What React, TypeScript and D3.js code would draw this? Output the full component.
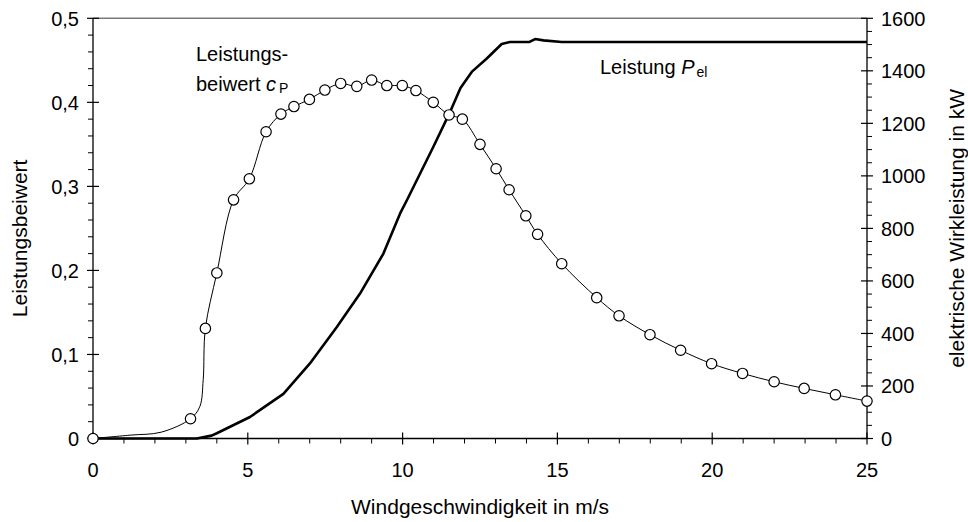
import React from "react";
import * as d3 from "d3";

// Leistungsbeiwert cP (markers)
const cpX = [0, 3.15, 3.63, 4.0, 4.54, 5.05, 5.59, 6.07, 6.49, 6.99, 7.49, 8.0, 8.52, 9.0, 9.49, 9.99, 10.43, 10.99, 11.5, 11.93, 12.5, 13.02, 13.44, 13.98, 14.36, 15.14, 16.27, 16.99, 17.99, 18.98, 19.98, 20.98, 22.0, 22.97, 23.98, 25];
const cpY = [0, 0.0235, 0.131, 0.197, 0.284, 0.309, 0.365, 0.386, 0.395, 0.4035, 0.4146, 0.4225, 0.419, 0.4265, 0.42, 0.42, 0.414, 0.4, 0.385, 0.38, 0.35, 0.321, 0.296, 0.265, 0.243, 0.208, 0.1676, 0.146, 0.1235, 0.105, 0.089, 0.0774, 0.0675, 0.0596, 0.052, 0.0445];
// additional unmarked points of the cP curve
const cpExtraX = [1.2, 2.2, 3.45, 3.56];
const cpExtraY = [0.004, 0.0075, 0.038, 0.07];

// elektrische Leistung Pel (kW)
const pX = [0, 3.35, 3.83, 4.0, 5.07, 6.15, 7.0, 7.87, 8.62, 9.38, 9.92, 10.15, 10.99, 11.5, 11.87, 12.25, 12.72, 13.2, 13.47, 14.1, 14.28, 14.55, 15.14, 25];
const pY = [0, 0, 11, 20, 82, 170, 285, 424, 551, 704, 857, 910, 1110, 1235, 1335, 1398, 1447, 1502, 1510, 1510, 1521, 1516, 1510, 1510];

const xTicks = [0, 5, 10, 15, 20, 25];
const cpTicks = [0, 0.1, 0.2, 0.3, 0.4, 0.5];
const cpTickLabels = ["0", "0,1", "0,2", "0,3", "0,4", "0,5"];
const pTicks = [0, 200, 400, 600, 800, 1000, 1200, 1400, 1600];

const FONT = "'Liberation Sans', Arial, Helvetica, sans-serif";

export default function App() {
  const W = 968, H = 522;
  const left = 93, right = 867, top = 18.3, bottom = 438.5;
  const x = d3.scaleLinear().domain([0, 25]).range([left, right]);
  const yL = d3.scaleLinear().domain([0, 0.5]).range([bottom, top]);
  const yR = d3.scaleLinear().domain([0, 1600]).range([bottom, top]);

  const cpPts = cpX.map((v, i) => ({ x: v, y: cpY[i] }));
  const cpLinePts = cpPts
    .concat(cpExtraX.map((v, i) => ({ x: v, y: cpExtraY[i] })))
    .sort((a, b) => a.x - b.x);
  const cpLine = d3
    .line<{ x: number; y: number }>()
    .x((d) => x(d.x))
    .y((d) => yL(d.y))
    .curve(d3.curveCatmullRom.alpha(0.5));
  const pLine = d3
    .line<number>()
    .x((d) => x(d))
    .y((d, i) => yR(pY[i]))
    .curve(d3.curveLinear);

  const xMinor = d3.range(0, 26, 1).filter((v) => v % 5 !== 0);
  const lMinor = d3.range(0, 0.5001, 0.02).filter((v) => Math.abs(v * 10 - Math.round(v * 10)) > 1e-6);
  const rMinor = d3.range(0, 1601, 50).filter((v) => v % 200 !== 0);

  return (
    <svg width={W} height={H} style={{ position: "absolute", left: 0, top: 0, background: "#fff" }} fontFamily={FONT}>
      {/* top border */}
      <line x1={left} x2={right} y1={top} y2={top} stroke="#7a7a7a" strokeWidth={1.5} />
      {/* axes */}
      <line x1={left} x2={right} y1={bottom} y2={bottom} stroke="#000" strokeWidth={1.3} />
      <line x1={left} x2={left} y1={bottom} y2={top} stroke="#000" strokeWidth={1.3} />
      <line x1={right} x2={right} y1={bottom} y2={top} stroke="#000" strokeWidth={1.3} />

      {/* x ticks */}
      {xTicks.map((t) => (
        <g key={"xt" + t}>
          <line x1={x(t)} x2={x(t)} y1={bottom - 6} y2={bottom + 6} stroke="#000" strokeWidth={1.2} />
          <text x={x(t)} y={477} fontSize={20} textAnchor="middle">{t}</text>
        </g>
      ))}
      {xMinor.map((t) => (
        <line key={"xm" + t} x1={x(t)} x2={x(t)} y1={bottom} y2={bottom + 5} stroke="#000" strokeWidth={1} />
      ))}

      {/* left ticks */}
      {cpTicks.map((t, i) => (
        <g key={"lt" + t}>
          <line x1={left - 6} x2={left + 6} y1={yL(t)} y2={yL(t)} stroke="#000" strokeWidth={1.2} />
          <text x={79} y={yL(t) + 7.5} fontSize={20} textAnchor="end">{cpTickLabels[i]}</text>
        </g>
      ))}
      {lMinor.map((t) => (
        <line key={"lm" + t} x1={left - 5} x2={left} y1={yL(t)} y2={yL(t)} stroke="#000" strokeWidth={1} />
      ))}

      {/* right ticks */}
      {pTicks.map((t) => (
        <g key={"rt" + t}>
          <line x1={right - 6} x2={right + 6} y1={yR(t)} y2={yR(t)} stroke="#000" strokeWidth={1.2} />
          <text x={881} y={yR(t) + 7.5} fontSize={20} textAnchor="start">{t}</text>
        </g>
      ))}
      {rMinor.map((t) => (
        <line key={"rm" + t} x1={right} x2={right + 5} y1={yR(t)} y2={yR(t)} stroke="#000" strokeWidth={1} />
      ))}

      {/* axis titles */}
      <text x={(left + right) / 2} y={514} fontSize={21} textAnchor="middle">Windgeschwindigkeit in m/s</text>
      <text transform={`translate(27,${(top + bottom) / 2 + 10}) rotate(-90)`} fontSize={21} textAnchor="middle">Leistungsbeiwert</text>
      <text transform={`translate(964,${(top + bottom) / 2}) rotate(-90)`} fontSize={21} textAnchor="middle">elektrische Wirkleistung in kW</text>

      {/* power curve */}
      <path d={pLine(pX) || ""} fill="none" stroke="#000" strokeWidth={2.6} strokeLinejoin="round" />

      {/* cP curve */}
      <path d={cpLine(cpLinePts) || ""} fill="none" stroke="#000" strokeWidth={1} />
      {cpPts.map((d, i) => (
        <circle key={"c" + i} cx={x(d.x)} cy={yL(d.y)} r={5.2} fill="#fff" stroke="#000" strokeWidth={1.2} />
      ))}

      {/* annotations */}
      <text x={196} y={61} fontSize={20}>Leistungs-</text>
      <text x={196} y={91} fontSize={20}>
        beiwert <tspan fontStyle="italic">c</tspan>
        <tspan fontSize={14} dx={3} dy={2}>P</tspan>
      </text>
      <text x={600} y={74} fontSize={20}>
        Leistung <tspan fontStyle="italic">P</tspan>
        <tspan fontSize={14} dx={2} dy={3}>el</tspan>
      </text>
    </svg>
  );
}
